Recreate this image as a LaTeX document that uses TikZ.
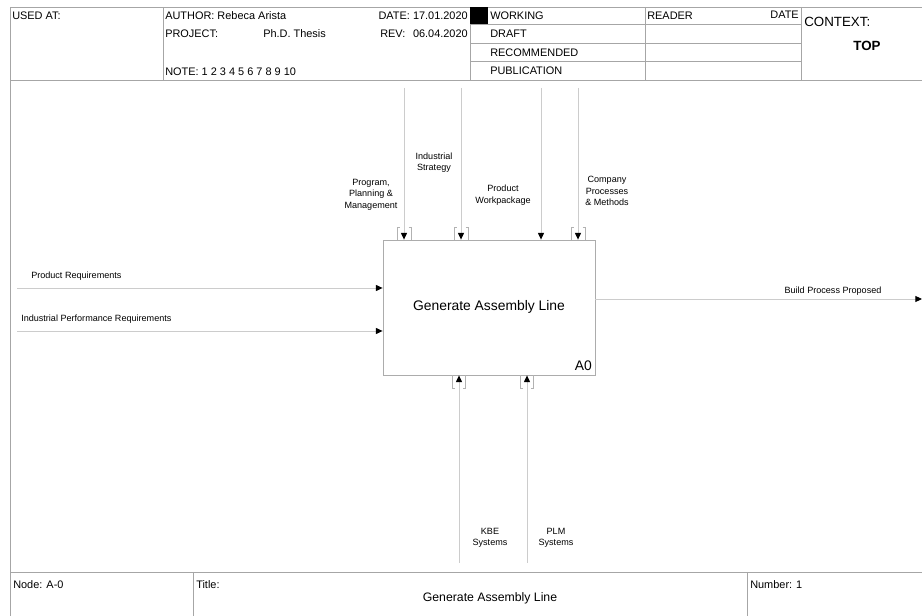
\documentclass[tikz,border=0pt]{standalone}
\usepackage{fontspec}
\setmainfont{Liberation Sans}
\usetikzlibrary{arrows.meta}
\begin{document}
\begin{tikzpicture}[x=0.75pt,y=-0.75pt,
  frame/.style={draw=gray!70, line width=0.6pt},
  flow/.style={draw=gray!40, line width=0.7pt, -{Triangle[length=5pt,width=4.5pt,color=black]}},
  tunnel/.style={draw=gray!60, line width=0.5pt},
  hdr/.style={inner sep=0pt, anchor=base west, font=\fontsize{8.2}{9.8}\selectfont},
  lbl/.style={inner sep=0pt, align=center, font=\fontsize{6.8}{8.6}\selectfont},
  flbl/.style={inner sep=0pt, anchor=base west, font=\fontsize{6.8}{8.6}\selectfont},
  act/.style={draw=gray!65, line width=0.6pt, inner sep=0pt, minimum width=159pt, minimum height=101.25pt}
]
\useasboundingbox (0,0) rectangle (922,616);

% ---------------- header frame ----------------
\draw[frame] (10,616) -- (10,7) -- (922,7);
\draw[frame] (10,80) -- (922,80);
\draw[frame] (163,7) -- (163,80);
\draw[frame] (470,7) -- (470,80);
\draw[frame] (645,7) -- (645,80);
\draw[frame] (801,7) -- (801,80);
\draw[frame] (470,24) -- (801,24);
\draw[frame] (470,43) -- (801,43);
\draw[frame] (470,61) -- (801,61);
\fill[black] (470,7) rectangle (488,24);

\node[hdr] (usedat) at (12,20) {USED AT:};
\node[hdr] (author) at (165,20) {AUTHOR: Rebeca Arista};
\node[hdr] (project) at (165,38) {PROJECT:};
\node[hdr] (thesis) at (263,38) {Ph.D. Thesis};
\node[hdr] (note) at (165,76) {NOTE: 1 2 3 4 5 6 7 8 9 10};
\node[hdr, anchor=base east] (date) at (468,20) {DATE: 17.01.2020};
\node[hdr] (rev) at (380,38) {REV:};
\node[hdr, anchor=base east] (revd) at (468,38) {06.04.2020};
\node[hdr] (working) at (490,20) {WORKING};
\node[hdr] (draft) at (490,38) {DRAFT};
\node[hdr] (recom) at (490,57) {RECOMMENDED};
\node[hdr] (publ) at (490,75) {PUBLICATION};
\node[hdr] (reader) at (647,20) {READER};
\node[hdr, anchor=base east] (rdate) at (799,19) {DATE};
\node[inner sep=0pt, anchor=base west, font=\fontsize{10}{12}\selectfont] (context) at (804,27) {CONTEXT:};
\node[inner sep=0pt, anchor=base, font=\fontsize{10}{12}\selectfont\bfseries] (top) at (867,51) {TOP};

% ---------------- footer ----------------
\draw[frame] (10,572) -- (922,572);
\draw[frame] (193,572) -- (193,616);
\draw[frame] (747,572) -- (747,616);
\node[inner sep=0pt, anchor=base west, font=\fontsize{8.2}{10}\selectfont] (fnode) at (13,589) {Node: A-0};
\node[inner sep=0pt, anchor=base west, font=\fontsize{8.2}{10}\selectfont] (ftitle) at (196,589) {Title:};
\node[inner sep=0pt, anchor=base west, font=\fontsize{8.2}{10}\selectfont] (fnum) at (750,589) {Number: 1};
\node[inner sep=0pt, anchor=base, font=\fontsize{9.2}{11}\selectfont] (ftext) at (490,602) {Generate Assembly Line};

% ---------------- activity box ----------------
\node[act] (A0) at (489,307.5) {};
\node[inner sep=0pt, anchor=base, font=\fontsize{10.4}{12}\selectfont] (A0text) at (489,311) {Generate Assembly Line};
\node[inner sep=0pt, anchor=base east, font=\fontsize{10.4}{12}\selectfont] (A0num) at (592,371) {A0};

% ---------------- controls (top) ----------------
\coordinate (c1) at (404,88);
\coordinate (c2) at (461,88);
\coordinate (c3) at (541,88);
\coordinate (c4) at (578,88);
\foreach \c in {c1,c2,c3,c4} \draw[flow] (\c) -- (\c |- A0.north);
\foreach \x in {404,461,578} {
  \draw[tunnel] (\x-4.5,227) -- (\x-7,227) -- (\x-7,240);
  \draw[tunnel] (\x+4.5,227) -- (\x+7,227) -- (\x+7,240);
}
\node[lbl] (l1) at (371,194.5) {Program,\\Planning \&\\Management};
\node[lbl] (l2) at (434,162.5) {Industrial\\Strategy};
\node[lbl] (l3) at (503,195) {Product\\Workpackage};
\node[lbl] (l4) at (607,191) {Company\\Processes\\\& Methods};

% ---------------- mechanisms (bottom) ----------------
\coordinate (m1) at (459,563);
\coordinate (m2) at (527,563);
\foreach \m in {m1,m2} \draw[flow] (\m) -- (\m |- A0.south);
\foreach \x in {459,527} {
  \draw[tunnel] (\x-4,388) -- (\x-6.5,388) -- (\x-6.5,375);
  \draw[tunnel] (\x+4,388) -- (\x+6.5,388) -- (\x+6.5,375);
}
\node[lbl] (b1) at (490,538) {KBE\\Systems};
\node[lbl] (b2) at (556,538) {PLM\\Systems};

% ---------------- inputs (left) ----------------
\coordinate (i1) at (17,288);
\coordinate (i2) at (17,331);
\foreach \i in {i1,i2} \draw[flow] (\i) -- (\i -| A0.west);
\node[flbl] (il1) at (31,278.5) {Product Requirements};
\node[flbl] (il2) at (21,321.5) {Industrial Performance Requirements};

% ---------------- output (right) ----------------
\coordinate (o1) at (922,299);
\draw[flow] (o1 -| A0.east) -- (o1);
\node[flbl, anchor=base] (ol1) at (833,293.5) {Build Process Proposed};
\end{tikzpicture}
\end{document}
